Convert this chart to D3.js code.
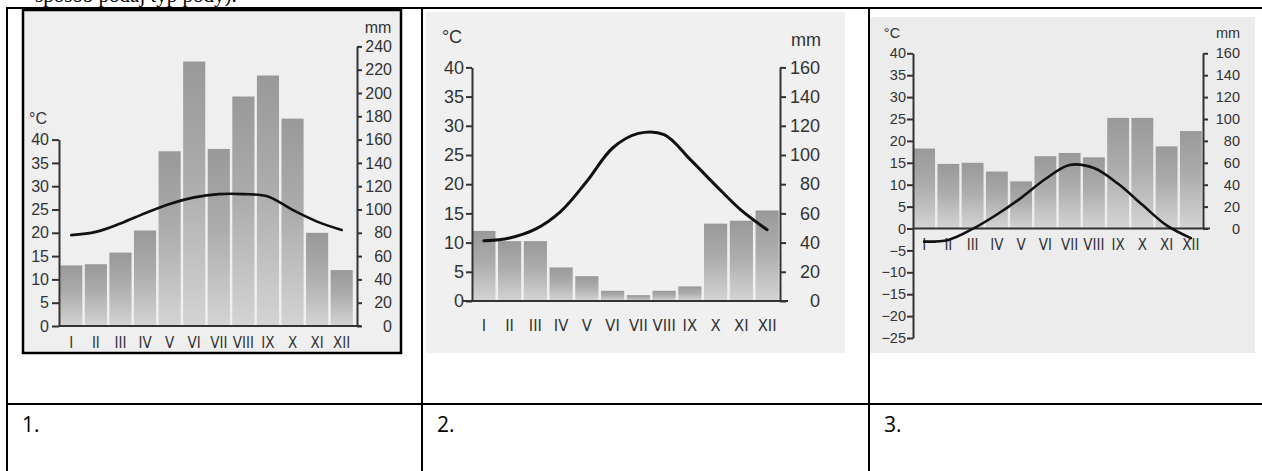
<!DOCTYPE html>
<html>
<head>
<meta charset="utf-8">
<script src="https://cdn.jsdelivr.net/npm/d3@7"></script>
<style>
	body{ margin:0; background:#fff; }
	svg{ display:block; }
	.num text{ font-family:"Liberation Sans", Arial, sans-serif; fill:#333; }
	.mon text{ font-family:"Liberation Sans Narrow", "DejaVu Sans Condensed", sans-serif; fill:#333; }
	.unit{ font-family:"Liberation Sans", Arial, sans-serif; fill:#333; }
</style>
</head>
<body>
<div id="container"></div>
<script>

var months = ["I","II","III","IV","V","VI","VII","VIII","IX","X","XI","XII"];

// chart 1
var precip1 = [52, 53, 63, 82, 150, 227, 152, 197, 215, 178, 80, 48];
var temp1   = [19.5, 20.2, 22, 24.2, 26.2, 27.6, 28.3, 28.3, 27.8, 24.9, 22.4, 20.6];
var tempTicks1 = [0, 5, 10, 15, 20, 25, 30, 35, 40];
var mmTicks1   = [0, 20, 40, 60, 80, 100, 120, 140, 160, 180, 200, 220, 240];

// chart 2
var precip2 = [48, 41, 41, 23, 17, 7, 4, 7, 10, 53, 55, 62];
var temp2   = [10.3, 10.8, 12.3, 15.4, 20.5, 26.2, 28.7, 28.5, 24.3, 19.8, 15.5, 12.2];
var tempTicks2 = [0, 5, 10, 15, 20, 25, 30, 35, 40];
var mmTicks2   = [0, 20, 40, 60, 80, 100, 120, 140, 160];

// chart 3
var precip3 = [73, 59, 60, 52, 43, 66, 69, 65, 101, 101, 75, 89];
var temp3   = [-3.0, -2.6, -0.1, 3.2, 7.0, 11.3, 14.5, 13.8, 10.2, 5.4, 0.7, -2.2];
var tempTicks3 = [-25, -20, -15, -10, -5, 0, 5, 10, 15, 20, 25, 30, 35, 40];
var mmTicks3   = [0, 20, 40, 60, 80, 100, 120, 140, 160];

var rowLabels = ["1.", "2.", "3."];

var W = 1262, H = 471;

var svg = d3.select("#container").append("svg")
	.attr("width", W).attr("height", H);

// gradient for the bars
var grad = svg.append("defs").append("linearGradient")
	.attr("id", "barGrad")
	.attr("x1", 0).attr("y1", 0).attr("x2", 0).attr("y2", 1);
grad.append("stop").attr("offset", "0%").attr("stop-color", "#999999");
grad.append("stop").attr("offset", "45%").attr("stop-color", "#acacac");
grad.append("stop").attr("offset", "100%").attr("stop-color", "#d4d4d4");

// line of text above the table, cut off by the page top as in the source
svg.append("text")
	.attr("x", 35).attr("y", 2)
	.style("font-family", "'Liberation Serif', serif")
	.style("font-size", "21px")
	.text("spôsob podaj typ pôdy).");

var layouts = [
	{ bg:[22, 9, 380, 345], frame:true, bgColor:"#efefef",
	  x0:59, x1:354, axL:59, axR:357, base:326, tTop:139.6, mTop:46.4,
	  baseL:59, baseR:361, fs:16, mfs:15, monY:343, labR:392,
	  tickL:7, padL:3, tickR:5, cX:38, cY:118, mmX:378, mmY:27, lineW:2.6 },
	{ bg:[426, 12, 419, 341], frame:false, bgColor:"#f0f0f0",
	  x0:471, x1:780, axL:472, axR:780, base:301, tTop:67.4, mTop:67.4,
	  baseL:463, baseR:788, fs:18, mfs:16.5, monY:325, labR:820,
	  tickL:6, padL:2, tickR:6, cX:452, cY:37, mmX:806, mmY:40, lineW:3 },
	{ bg:[870, 17, 385, 336], frame:false, bgColor:"#ececec",
	  x0:912, x1:1203, axL:913, axR:1203, base:228.5, tTop:53.3, mTop:53.3,
	  baseL:913, baseR:1210, fs:14.5, mfs:15, monY:245, labR:1240,
	  tickL:6, padL:1, tickR:5, cX:892, cY:33, mmX:1228, mmY:33, lineW:2.6 }
];

var series = [
	{ precip:precip1, temp:temp1, tTicks:tempTicks1, mTicks:mmTicks1 },
	{ precip:precip2, temp:temp2, tTicks:tempTicks2, mTicks:mmTicks2 },
	{ precip:precip3, temp:temp3, tTicks:tempTicks3, mTicks:mmTicks3 }
];

series.forEach(function(s, i){
	var L = layouts[i];
	var g = svg.append("g");

	g.append("rect")
		.attr("x", L.bg[0]).attr("y", L.bg[1])
		.attr("width", L.bg[2]).attr("height", L.bg[3])
		.attr("fill", L.bgColor);

	var tMin = d3.min(s.tTicks), tMax = d3.max(s.tTicks);
	var k = (L.base - L.tTop) / tMax;

	var x = d3.scaleBand()
		.domain(months)
		.range([L.x0, L.x1])
		.paddingInner(0.1)
		.paddingOuter(0.05);

	var yT = d3.scaleLinear()
		.domain([tMin, tMax])
		.range([L.base - tMin * k, L.tTop]);

	var yM = d3.scaleLinear()
		.domain([0, d3.max(s.mTicks)])
		.range([L.base, L.mTop]);

	// bars
	g.selectAll("rect.bar").data(s.precip).enter().append("rect")
		.attr("class", "bar")
		.attr("x", function(d, j){ return x(months[j]); })
		.attr("width", x.bandwidth())
		.attr("y", function(d){ return yM(d); })
		.attr("height", function(d){ return L.base - yM(d); })
		.attr("fill", "url(#barGrad)");

	// baseline
	g.append("line")
		.attr("x1", L.baseL).attr("x2", L.baseR)
		.attr("y1", yT(0)).attr("y2", yT(0))
		.attr("stroke", "#333").attr("stroke-width", 2);

	// temperature axis
	var gl = g.append("g")
		.attr("class", "num")
		.attr("transform", "translate(" + L.axL + ",0)")
		.call(d3.axisLeft(yT).tickValues(s.tTicks).tickFormat(d3.format("d"))
			.tickSize(L.tickL).tickSizeOuter(0).tickPadding(L.padL));
	gl.selectAll("path, line").attr("stroke", "#333").attr("stroke-width", 2);
	gl.selectAll("text").style("font-size", L.fs + "px");

	// precipitation axis
	var gr = g.append("g")
		.attr("class", "num")
		.attr("transform", "translate(" + L.axR + ",0)")
		.call(d3.axisRight(yM).tickValues(s.mTicks).tickFormat(d3.format("d"))
			.tickSize(L.tickR).tickSizeOuter(0));
	gr.selectAll("path, line").attr("stroke", "#333").attr("stroke-width", 2);
	gr.selectAll("text")
		.attr("x", L.labR - L.axR)
		.attr("text-anchor", "end")
		.style("font-size", L.fs + "px");

	// month labels
	var gm = g.append("g")
		.attr("class", "mon")
		.attr("transform", "translate(0," + L.monY + ")")
		.call(d3.axisBottom(x).tickSize(0).tickPadding(0));
	gm.select(".domain").remove();
	gm.selectAll("text").attr("dy", "0.35em").style("font-size", L.mfs + "px");

	// unit labels
	g.append("text").attr("class", "unit")
		.attr("x", L.cX).attr("y", L.cY).attr("dy", "0.35em")
		.attr("text-anchor", "middle")
		.style("font-size", L.fs + "px")
		.text("°C");
	g.append("text").attr("class", "unit")
		.attr("x", L.mmX).attr("y", L.mmY).attr("dy", "0.35em")
		.attr("text-anchor", "middle")
		.style("font-size", L.fs + "px")
		.text("mm");

	// temperature curve
	var line = d3.line()
		.x(function(d, j){ return x(months[j]) + x.bandwidth() / 2; })
		.y(function(d){ return yT(d); })
		.curve(d3.curveCatmullRom.alpha(0.5));

	g.append("path")
		.datum(s.temp)
		.attr("d", line)
		.attr("fill", "none")
		.attr("stroke", "#111")
		.attr("stroke-width", L.lineW)
		.attr("stroke-linecap", "round");

	if(L.frame){
		g.append("rect")
			.attr("x", L.bg[0] + 1).attr("y", L.bg[1] + 1)
			.attr("width", L.bg[2] - 2).attr("height", L.bg[3] - 2)
			.attr("fill", "none")
			.attr("stroke", "#000").attr("stroke-width", 2.5);
	}
});

// table grid
var colX = [7, 422, 869];
var table = svg.append("g").attr("stroke", "#000").attr("stroke-width", 2);
table.append("line").attr("x1", 6).attr("x2", W).attr("y1", 8).attr("y2", 8);
table.append("line").attr("x1", 6).attr("x2", W).attr("y1", 404).attr("y2", 404);
table.selectAll("line.col").data(colX).enter().append("line")
	.attr("class", "col")
	.attr("x1", function(d){ return d; }).attr("x2", function(d){ return d; })
	.attr("y1", 7).attr("y2", H);

svg.selectAll("text.row").data(rowLabels).enter().append("text")
	.attr("class", "row")
	.attr("x", function(d, i){ return colX[i] + 15; })
	.attr("y", 432)
	.style("font-family", "'Open Sans', 'Noto Sans', sans-serif")
	.style("font-size", "21px")
	.text(function(d){ return d; });

</script>
</body>
</html>
